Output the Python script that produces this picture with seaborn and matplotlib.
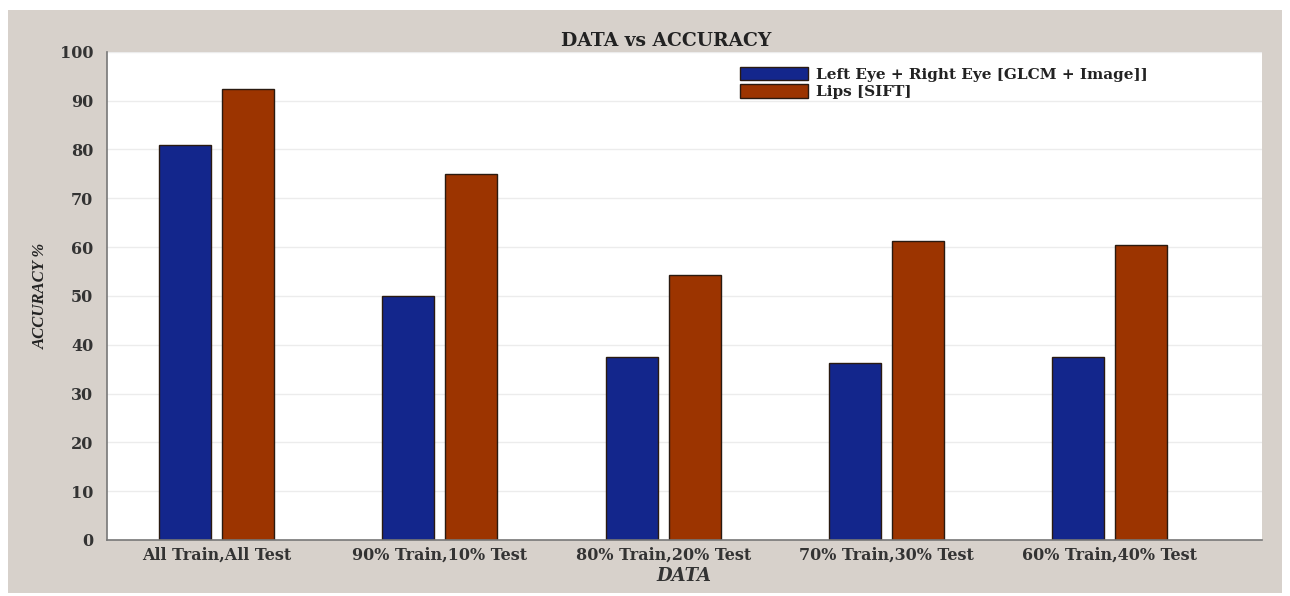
import numpy as np
import pandas as pd
import seaborn as sns
import matplotlib.pyplot as plt
from matplotlib.patches import Rectangle

# values
categories = ["All Train,All Test", "90% Train,10% Test", "80% Train,20% Test",
              "70% Train,30% Test", "60% Train,40% Test"]
series_names = ["Left Eye + Right Eye [GLCM + Image]]", "Lips [SIFT]"]
eye_acc = [81.0, 50.0, 37.5, 36.2, 37.5]
lips_acc = [92.4, 75.0, 54.2, 61.2, 60.5]
colors = ["#13268c", "#9c3400"]

df = pd.DataFrame({
    "DATA": categories * 2,
    "ACCURACY": eye_acc + lips_acc,
    "Series": [series_names[0]] * len(categories) + [series_names[1]] * len(categories),
})

sns.set_theme(style="white")
plt.rcParams['font.family'] = ['DejaVu Serif']

fig = plt.figure(figsize=(12.9, 5.96), dpi=100, facecolor="white")
# grey panel behind the plot
fig.patches.append(Rectangle((0.006, 0.005), 0.988, 0.978, transform=fig.transFigure,
                             facecolor="#d7d1cb", edgecolor="none", zorder=-1))
ax = fig.add_axes([0.083, 0.094, 0.895, 0.819])
ax.set_facecolor("white")

sns.barplot(data=df, x="DATA", y="ACCURACY", hue="Series", palette=colors,
            saturation=1, width=0.564, gap=0.175, edgecolor="#2a1a10", linewidth=1.0, ax=ax)

ax.set_ylim(0, 100)
ax.set_xlim(-0.49, 4.68)
ax.set_yticks(np.arange(0, 101, 10))
ax.yaxis.grid(True, color="#ececec", linewidth=1.0)
ax.set_axisbelow(True)
ax.tick_params(axis="y", direction="out", length=4, color="#777777", pad=6)
ax.tick_params(axis="x", length=0, pad=5)
for lab in ax.get_xticklabels():
    lab.set_fontweight("bold")
    lab.set_fontsize(11.5)
    lab.set_color("#333333")
for lab in ax.get_yticklabels():
    lab.set_fontweight("bold")
    lab.set_fontsize(11.5)
    lab.set_color("#333333")

for side in ["top", "right"]:
    ax.spines[side].set_visible(False)
for side in ["left", "bottom"]:
    ax.spines[side].set_color("#777777")
    ax.spines[side].set_linewidth(1.2)

ax.set_title("DATA vs ACCURACY", fontsize=13.5, fontweight="bold", color="#222222", pad=4, x=0.484)
ax.set_xlabel("DATA", fontsize=13, fontweight="bold", fontstyle="italic", color="#333333", labelpad=2)
ax.set_ylabel("ACCURACY %", fontsize=12, fontstyle="italic", fontweight="bold",
              family="Liberation Serif", color="#222222", labelpad=8)

leg = ax.legend(loc="upper left", bbox_to_anchor=(0.536, 0.998), frameon=False,
                handlelength=4.5, handleheight=1.0, labelspacing=0.15, handletextpad=0.5,
                prop={"weight": "bold", "size": 11})
for t in leg.get_texts():
    t.set_color("#222222")

fig.savefig("out.png", dpi=100, facecolor=fig.get_facecolor())
